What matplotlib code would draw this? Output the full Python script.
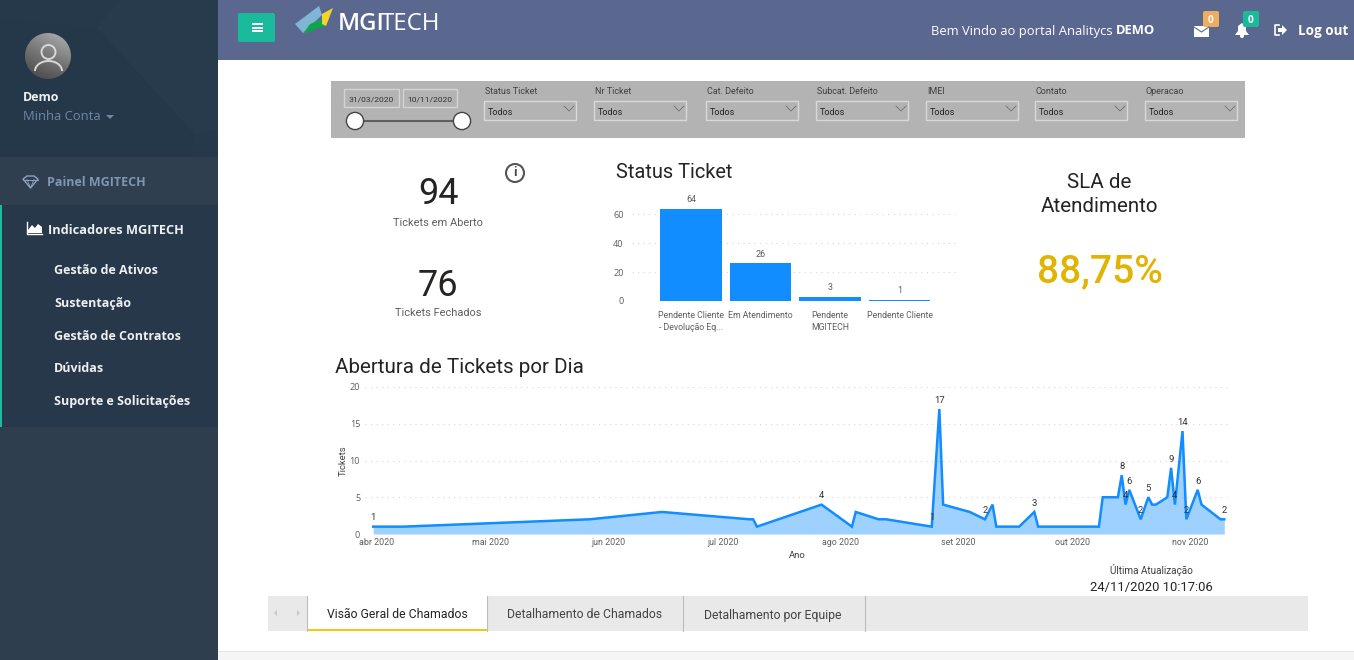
"""
Painel MGITECH - recriacao do dashboard de tickets
"""

from datetime import datetime

import matplotlib.dates as mdates
import matplotlib.pyplot as plt
import numpy as np
from matplotlib.patches import Arc, Circle, FancyBboxPatch, Polygon, Rectangle

W, H = 1354, 660
plt.rcParams["font.family"] = ["Open Sans", "DejaVu Sans"]

# Dados
status_labels = ["Pendente Cliente\n- Devolução Eq...", "Em Atendimento", "Pendente\nMGITECH", "Pendente Cliente"]
status_values = [64, 26, 3, 1]

ticket_dates = [
    "2020-03-31", "2020-04-08", "2020-05-27", "2020-06-15", "2020-07-08", "2020-07-09",
    "2020-07-10", "2020-07-27", "2020-08-04", "2020-08-05", "2020-08-11", "2020-08-13",
    "2020-08-25", "2020-08-27", "2020-08-28", "2020-09-04", "2020-09-08", "2020-09-10",
    "2020-09-11", "2020-09-17", "2020-09-21", "2020-09-22", "2020-10-08", "2020-10-09",
    "2020-10-13", "2020-10-14", "2020-10-15", "2020-10-16", "2020-10-19", "2020-10-21",
    "2020-10-22", "2020-10-23", "2020-10-26", "2020-10-27", "2020-10-28", "2020-10-30",
    "2020-10-31", "2020-11-03", "2020-11-04", "2020-11-09", "2020-11-10",
]
ticket_counts = [
    1, 1, 2, 3, 2, 2,
    1, 4, 1, 3, 2, 2,
    1, 17, 4, 3, 2, 4,
    1, 1, 3, 1, 1, 5,
    5, 8, 4, 6, 2, 5,
    4, 4, 5, 9, 4, 14,
    2, 6, 4, 2, 2,
]
labeled_dates = [
    "2020-03-31", "2020-07-27", "2020-08-25", "2020-08-27", "2020-09-08", "2020-09-21",
    "2020-10-14", "2020-10-15", "2020-10-16", "2020-10-19", "2020-10-21", "2020-10-27",
    "2020-10-28", "2020-10-30", "2020-10-31", "2020-11-03", "2020-11-10",
]
month_ticks = ["2020-04-01", "2020-05-01", "2020-06-01", "2020-07-01", "2020-08-01", "2020-09-01", "2020-10-01", "2020-11-01"]
month_labels = ["abr 2020", "mai 2020", "jun 2020", "jul 2020", "ago 2020", "set 2020", "out 2020", "nov 2020"]

slicer_titles = ["Status Ticket", "Nr Ticket", "Cat. Defeito", "Subcat. Defeito", "IMEI", "Contato", "Operacao"]
slicer_lefts = [484, 594, 706, 816, 926, 1035, 1145]
menu_items = ["Gestão de Ativos", "Sustentação", "Gestão de Contratos", "Dúvidas", "Suporte e Solicitações"]
tab_names = ["Visão Geral de Chamados", "Detalhamento de Chamados", "Detalhamento por Equipe"]

BLUE = "#118DFF"
TXT = "#252423"
GREY = "#605E5C"


def px_axes(fig, x0, y0, x1, y1):
    """Cria um axes a partir de coordenadas em pixels."""
    ax = fig.add_axes([x0 / W, 1 - y1 / H, (x1 - x0) / W, (y1 - y0) / H])
    ax.patch.set_alpha(0)
    return ax


def t(ax, x, y, s, px=12, color=TXT, ha="left", va="center", **kw):
    # +2: o centro do texto no matplotlib fica acima do original
    ax.text(x, y + 2, s, fontsize=px * 0.72, color=color, ha=ha, va=va, **kw)


def rect(ax, x0, y0, x1, y1, color, **kw):
    ax.add_patch(Rectangle((x0, y0), x1 - x0, y1 - y0, facecolor=color, edgecolor="none", **kw))


def rounded(ax, x0, y0, x1, y1, color, r=2):
    ax.add_patch(FancyBboxPatch((x0 + r, y0 + r), x1 - x0 - 2 * r, y1 - y0 - 2 * r,
                                boxstyle=f"round,pad={r},rounding_size={r}", facecolor=color, edgecolor="none"))


def draw_sidebar(bg):
    rect(bg, 0, 0, 218, 660, "#2E3E4F")
    rect(bg, 0, 0, 218, 157, "#26394A")
    bg.add_patch(Polygon([(97, 28), (120, 0), (218, 0), (218, 130), (195, 135)], facecolor="#283B4D", edgecolor="none"))
    bg.add_patch(Polygon([(0, 20), (97, 28), (195, 135), (190, 157), (0, 157)], facecolor="#25384A", edgecolor="none"))
    rect(bg, 0, 157, 218, 205, "#2F3F50")
    rect(bg, 0, 205, 218, 427, "#27384A")
    rect(bg, 0, 205, 2, 427, "#1ABB9C")

    # avatar
    grad = np.linspace(0.62, 0.32, 64).reshape(-1, 1) * np.linspace(0.85, 1.15, 64)
    im = bg.imshow(grad, extent=(25, 71, 79, 33), cmap="gray", vmin=0, vmax=1, aspect="auto", zorder=2)
    im.set_clip_path(Circle((48, 56), 23, transform=bg.transData))
    bg.add_patch(Circle((48.5, 52), 7, facecolor="none", edgecolor="#D8D8D8", lw=1.4, zorder=3))
    bg.add_patch(Arc((48.5, 71), 27, 20, theta1=180, theta2=360, edgecolor="#D8D8D8", lw=1.4, zorder=3))

    t(bg, 23, 95.5, "Demo", 12.5, "#ECF0F1", weight="bold")
    t(bg, 23, 114, "Minha Conta", 13, "#6F87A3")
    bg.add_patch(Polygon([(106, 115), (114, 115), (110, 119)], facecolor="#6F87A3", edgecolor="none"))

    # diamante
    bg.add_patch(Polygon([(23, 179), (27, 176), (34, 176), (38, 179), (30.5, 188)],
                         facecolor="none", edgecolor="#8FA3BC", lw=1))
    bg.plot([23, 38], [179.5, 179.5], color="#8FA3BC", lw=0.7)
    bg.plot([27, 30.5, 34], [179.5, 188, 179.5], color="#8FA3BC", lw=0.6)
    t(bg, 47, 180, "Painel MGITECH", 12.5, "#7F96B2", weight="bold")

    # icone de area
    bg.plot([27, 27, 42], [222, 234, 234], color="white", lw=1)
    bg.add_patch(Polygon([(28, 233), (28, 230), (32, 225), (35, 228), (38, 224), (42, 227), (42, 233)],
                         facecolor="white", edgecolor="none"))
    t(bg, 48, 228, "Indicadores MGITECH", 12.7, "#ECF0F1", weight="bold")
    for y, item in zip([268, 301, 334, 367, 400], menu_items):
        t(bg, 54, y, item, 12.5, "#ECF0F1", weight="bold")


def draw_header(bg):
    rect(bg, 218, 0, 1354, 60, "#5A6890")
    rounded(bg, 238, 13, 275, 42, "#1ABB9C", 2)
    for y in [24, 27.5, 31]:
        rect(bg, 251.5, y - 1, 262.5, y + 1, "white")

    # logo
    bg.add_patch(Polygon([(295, 24), (319, 6), (322, 15), (303, 33)], facecolor="#7FB6D6", edgecolor="none"))
    bg.add_patch(Polygon([(303, 34), (310, 24), (322, 19), (325, 26), (318, 28)], facecolor="#0BA84A", edgecolor="none"))
    bg.add_patch(Polygon([(322, 14), (333, 8), (326, 26), (322, 24)], facecolor="#F6D32B", edgecolor="none"))
    t(bg, 338, 22.5, "MGI", 24, "white", weight="semibold")
    t(bg, 381, 22.5, "TECH", 24, "white")

    t(bg, 931, 29, "Bem Vindo ao portal Analitycs", 13, "white")
    t(bg, 1116, 29, "DEMO", 13, "white", weight="bold")

    # envelope
    rect(bg, 1194, 26, 1209, 37, "white")
    bg.plot([1194, 1201.5, 1209], [27, 32, 27], color="#5A6890", lw=0.8)
    rounded(bg, 1203, 11, 1219, 27, "#F0AD5B", 2)
    t(bg, 1211, 18.5, "0", 10, "white", ha="center", weight="bold")

    # sino
    bg.add_patch(Polygon([(1235, 35), (1238, 31), (1238, 26), (1242, 23), (1246, 26), (1246, 31), (1249, 35)],
                         facecolor="white", edgecolor="none"))
    bg.add_patch(Circle((1242, 36), 2, facecolor="white", edgecolor="none"))
    rounded(bg, 1243, 11, 1259, 27, "#1ABB9C", 2)
    t(bg, 1251, 18.5, "0", 10, "white", ha="center", weight="bold")

    # log out
    bg.plot([1279, 1275, 1275, 1279], [25, 25, 35, 35], color="white", lw=1.2)
    bg.add_patch(Polygon([(1278, 28), (1282, 28), (1282, 25), (1287, 30), (1282, 35), (1282, 32), (1278, 32)],
                         facecolor="white", edgecolor="none"))
    t(bg, 1298, 29, "Log out", 13.5, "white", weight="bold")


def draw_slicers(bg):
    rect(bg, 331, 81, 1245, 138, "#B3B3B3")
    for x0, x1, s in [(344, 399, "31/03/2020"), (403, 457, "10/11/2020")]:
        bg.add_patch(Rectangle((x0, 88.5), x1 - x0, 18.5, facecolor="none", edgecolor="#D4D4D4", lw=1))
        t(bg, (x0 + x1) / 2, 97, s, 8.5, "#333333", ha="center", family="Roboto")
    bg.plot([355, 462], [121, 121], color="#5E5E5E", lw=1.5)
    for x in [355, 462]:
        bg.add_patch(Circle((x, 121), 8.6, facecolor="white", edgecolor="#444444", lw=1, zorder=3))
    for x0, title in zip(slicer_lefts, slicer_titles):
        t(bg, x0 + 1, 89, title, 9, "#404040", family="Roboto")
        bg.add_patch(Rectangle((x0, 100.5), 91.5, 19.5, facecolor="none", edgecolor="#D9D9D9", lw=1))
        t(bg, x0 + 4, 110.5, "Todos", 9, "#252423", family="Roboto")
        bg.plot([x0 + 80, x0 + 85, x0 + 90], [106, 111, 106], color="#666666", lw=0.5)


def draw_kpis(bg):
    t(bg, 438, 192, "94", 36, TXT, ha="center", family="Roboto")
    t(bg, 438, 220.5, "Tickets em Aberto", 11, GREY, ha="center", family="Roboto")
    t(bg, 438, 283.5, "76", 36, TXT, ha="center", family="Roboto")
    t(bg, 438, 311.5, "Tickets Fechados", 11, GREY, ha="center", family="Roboto")
    bg.add_patch(Circle((515, 173), 9, facecolor="white", edgecolor="#555555", lw=1.5))
    t(bg, 515, 171, "i", 13, "#444444", ha="center", family="Roboto", weight="bold")
    t(bg, 616, 170, "Status Ticket", 20, TXT, family="Roboto")
    t(bg, 1099, 181, "SLA de", 20.5, TXT, ha="center", family="Roboto")
    t(bg, 1099, 205, "Atendimento", 20.5, TXT, ha="center", family="Roboto")
    t(bg, 1100, 270, "88,75%", 39, "#E0B400", ha="center", family="Roboto", weight="medium")
    t(bg, 335, 365.5, "Abertura de Tickets por Dia", 20.6, TXT, family="Roboto")


def draw_footer(bg):
    t(bg, 1151, 568, "Última Atualização", 10, "#404040", ha="center", family="Roboto")
    t(bg, 1151, 585, "24/11/2020 10:17:06", 13, TXT, ha="center", family="Roboto")
    rect(bg, 268, 596, 1308, 631, "#E9E9E9")
    rect(bg, 307, 596, 487, 631, "white")
    rect(bg, 307, 628.5, 487, 631, "#F2C811")
    for x in [307, 487, 682.5, 864.5]:
        bg.plot([x, x], [596, 631], color="#BDBDBD", lw=0.8)
    bg.add_patch(Polygon([(277, 610), (274, 613), (277, 616)], facecolor="#C8C8C8", edgecolor="none"))
    bg.add_patch(Polygon([(297, 610), (300, 613), (297, 616)], facecolor="#C8C8C8", edgecolor="none"))
    for x, name, color in zip([397, 585, 773], tab_names, [TXT, "#444444", "#444444"]):
        t(bg, x, 613, name, 12.2, color, ha="center", family="Roboto")
    rect(bg, 218, 651, 1354, 660, "#F5F5F5")
    bg.plot([218, 1354], [651, 651], color="#E6E6E6", lw=0.8)


def draw_status_chart(fig):
    ax = px_axes(fig, 632, 192, 960, 301)
    x = np.arange(len(status_values))
    bars = ax.bar(x, status_values, width=0.89, color=BLUE, zorder=2)
    ax.set_xlim(-0.849, 3.87)
    ax.set_ylim(0, 109 / 1.445)
    ax.set_yticks([0, 20, 40, 60])
    ax.set_xticks(x)
    ax.set_xticklabels(status_labels, fontsize=6.3, color=GREY, linespacing=1.4, family="Roboto")
    ax.tick_params(length=0)
    ax.tick_params(axis="x", pad=7)
    ax.tick_params(axis="y", pad=6, labelsize=6.6, labelcolor=GREY)
    ax.grid(axis="y", color="#D6D6D6", linestyle=(0, (1, 4)), linewidth=0.8, zorder=0)
    for s in ax.spines.values():
        s.set_visible(False)
    for bar, v in zip(bars, status_values):
        ax.annotate(str(v), (bar.get_x() + bar.get_width() / 2, v), xytext=(0, 3), textcoords="offset points",
                    ha="center", va="bottom", fontsize=6.4, color=GREY, family="Roboto")


def draw_daily_chart(fig):
    ax = px_axes(fig, 365, 387, 1230, 534)
    dates = [datetime.strptime(d, "%Y-%m-%d") for d in ticket_dates]
    ax.plot(dates, ticket_counts, color=BLUE, linewidth=1.8, zorder=3, solid_joinstyle="miter")
    ax.fill_between(dates, ticket_counts, color=BLUE, alpha=0.4, linewidth=0, zorder=2)
    start = mdates.date2num(datetime(2020, 4, 1))
    ax.set_xlim(start - 3.16, start + 224.5)
    ax.set_ylim(0, 20)
    ax.set_yticks([0, 5, 10, 15, 20])
    ax.set_xticks([datetime.strptime(d, "%Y-%m-%d") for d in month_ticks])
    ax.set_xticklabels(month_labels, fontsize=6.4, color=GREY, family="Roboto")
    ax.tick_params(length=0)
    ax.tick_params(axis="x", pad=3)
    ax.tick_params(axis="y", pad=3.5, labelsize=6.6, labelcolor=GREY)
    ax.grid(axis="y", color="#D6D6D6", linestyle=(0, (1, 4)), linewidth=0.8, zorder=0)
    ax.set_axisbelow(True)
    for s in ax.spines.values():
        s.set_visible(False)
    ax.set_ylabel("Tickets", fontsize=6.8, color="#404040", labelpad=1.5, family="Roboto")
    ax.set_xlabel("Ano", fontsize=6.8, color="#404040", labelpad=3, family="Roboto")
    for d, date, v in zip(ticket_dates, dates, ticket_counts):
        if d in labeled_dates:
            ax.annotate(str(v), (date, v), xytext=(0, 3), textcoords="offset points",
                        ha="center", va="bottom", fontsize=6.8, color="#333333", family="Roboto", zorder=4)


def main():
    fig = plt.figure(figsize=(W / 100, H / 100), dpi=100, facecolor="white")
    bg = fig.add_axes([0, 0, 1, 1])
    draw_sidebar(bg)
    draw_header(bg)
    draw_slicers(bg)
    draw_kpis(bg)
    draw_footer(bg)
    bg.set_xlim(0, W)
    bg.set_ylim(H, 0)
    bg.axis("off")

    draw_status_chart(fig)
    draw_daily_chart(fig)
    fig.savefig("out.png", dpi=100)
    plt.close(fig)


main()
